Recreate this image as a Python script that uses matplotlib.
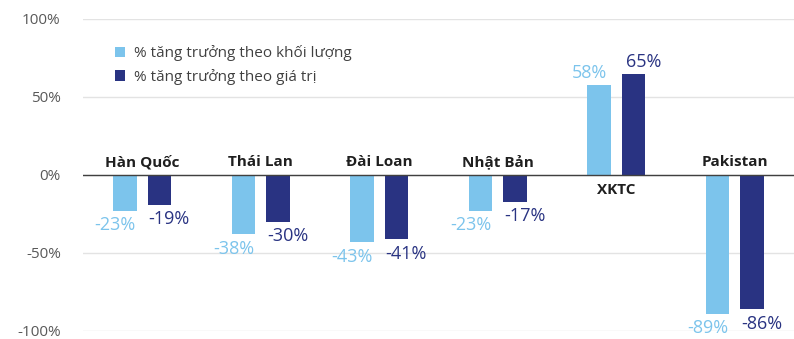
import matplotlib
matplotlib.use("Agg")
import matplotlib.pyplot as plt
import numpy as np

plt.rcParams['font.family'] = ['Open Sans', 'DejaVu Sans']

categories = ["Hàn Quốc", "Thái Lan", "Đài Loan", "Nhật Bản", "XKTC", "Pakistan"]
volume_growth = [-23, -38, -43, -23, 58, -89]
value_growth = [-19, -30, -41, -17, 65, -86]
series_names = ["% tăng trưởng theo khối lượng", "% tăng trưởng theo giá trị"]
yticks = [-100, -50, 0, 50, 100]
ytick_labels = ["-100%", "-50%", "0%", "50%", "100%"]

c_light = "#7CC4EC"
c_dark = "#293382"

fig = plt.figure(figsize=(7.94, 3.39), dpi=100)
ax = fig.add_axes([83/794, 1 - 331/339, 1 - 83/794, (331 - 19)/339])

x = np.arange(len(categories))
w = 0.195
off = 0.146
b1 = ax.bar(x - off, volume_growth, w, color=c_light, label=series_names[0], zorder=3)
b2 = ax.bar(x + off, value_growth, w, color=c_dark, label=series_names[1], zorder=3)

ax.set_xlim(-0.5, len(categories) - 0.5)
ax.set_ylim(-100, 100)
ax.set_yticks(yticks)
ax.set_yticklabels(ytick_labels, fontsize=11, color="#595959")
ax.tick_params(axis='y', length=0, pad=16)
ax.set_xticks([])
for s in ax.spines.values():
    s.set_visible(False)
ax.grid(axis='y', color="#E3E3E3", linewidth=1, zorder=0)
ax.axhline(0, color="#404040", linewidth=1, zorder=4)

for bars, vals, col, dx in [(b1, volume_growth, c_light, -7), (b2, value_growth, c_dark, 7)]:
    for rect, v in zip(bars, vals):
        cx = rect.get_x() + rect.get_width() / 2
        if v >= 0:
            ax.annotate(f"{v}%", (cx, v), xytext=(dx, 2), textcoords="offset points",
                        ha="center", va="bottom", fontsize=13, color=col, zorder=5)
        else:
            ax.annotate(f"{v}%", (cx, v), xytext=(dx, -4), textcoords="offset points",
                        ha="center", va="top", fontsize=13, color=col, zorder=5)

for xi, cat, v1, v2 in zip(x, categories, volume_growth, value_growth):
    if min(v1, v2) >= 0:
        ax.annotate(cat, (xi, 0), xytext=(0, -6), textcoords="offset points",
                    ha="center", va="top", fontsize=11, fontweight="bold", color="#1F1F1F")
    else:
        ax.annotate(cat, (xi, 0), xytext=(0, 4), textcoords="offset points",
                    ha="center", va="bottom", fontsize=11, fontweight="bold", color="#1F1F1F")

leg = ax.legend(loc="upper left", bbox_to_anchor=(0.025, 0.96), frameon=False,
                fontsize=11, handlelength=0.7, handleheight=0.7, handletextpad=0.6,
                labelspacing=0.5, labelcolor="#404040")

fig.savefig("out.png", dpi=100)
